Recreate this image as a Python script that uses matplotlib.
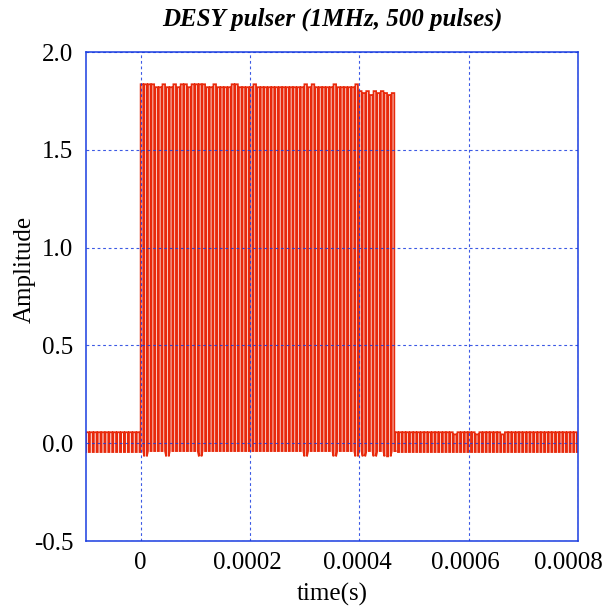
import numpy as np
import matplotlib
matplotlib.use("Agg")
import matplotlib.pyplot as plt
import matplotlib.transforms as mtransforms

plt.rcParams['font.family'] = ['Liberation Serif', 'DejaVu Serif']
plt.rcParams['axes.unicode_minus'] = False

# time boundaries of the scope trace (s)
t_start = -0.0001
t_pulse_on = 0.0
t_pulse_off = 0.000466
t_end = 0.0008

# baseline noise before the burst (top / bottom level per cycle)
pre_top = [0.056, 0.056, 0.056, 0.056, 0.056, 0.056, 0.056,
           0.056, 0.056, 0.056, 0.056, 0.056, 0.056, 0.056]
pre_bottom = [-0.045, -0.045, -0.045, -0.045, -0.045, -0.045, -0.045,
              -0.045, -0.045, -0.045, -0.045, -0.045, -0.045, -0.045]

# pulse burst, top / bottom level per sampled cycle
pulse_top = [1.835, 1.835, 1.835, 1.835, 1.82, 1.82, 1.835, 1.82, 1.82, 1.835,
             1.82, 1.835, 1.835, 1.82, 1.835, 1.835, 1.835, 1.835, 1.82, 1.82,
             1.835, 1.82, 1.82, 1.82, 1.82, 1.835, 1.835, 1.82, 1.82, 1.82,
             1.82, 1.835, 1.82, 1.82, 1.82, 1.82, 1.82, 1.82, 1.82, 1.82,
             1.82, 1.82, 1.82, 1.82, 1.82, 1.835, 1.82, 1.835, 1.82, 1.82,
             1.82, 1.82, 1.82, 1.835, 1.82, 1.82, 1.82, 1.82, 1.82, 1.835,
             1.80, 1.79, 1.80, 1.78, 1.80, 1.79, 1.80, 1.79, 1.78, 1.79]
pulse_bottom = [-0.04, -0.067, -0.04, -0.04, -0.04, -0.04, -0.04, -0.067, -0.04, -0.04,
                -0.04, -0.04, -0.04, -0.04, -0.04, -0.04, -0.067, -0.04, -0.04, -0.04,
                -0.04, -0.04, -0.04, -0.04, -0.04, -0.04, -0.04, -0.04, -0.04, -0.04,
                -0.04, -0.04, -0.04, -0.04, -0.04, -0.04, -0.04, -0.04, -0.04, -0.04,
                -0.04, -0.04, -0.04, -0.04, -0.04, -0.067, -0.04, -0.04, -0.04, -0.04,
                -0.04, -0.04, -0.04, -0.067, -0.04, -0.04, -0.04, -0.04, -0.04, -0.067,
                -0.04, -0.067, -0.04, -0.04, -0.067, -0.04, -0.04, -0.067, -0.067, -0.04]

# baseline noise after the burst
post_top = [0.056, 0.056, 0.056, 0.056, 0.056, 0.056, 0.056, 0.056, 0.056, 0.056,
            0.056, 0.056, 0.056, 0.056, 0.056, 0.056, 0.045, 0.056, 0.056, 0.056,
            0.056, 0.056, 0.045, 0.056, 0.056, 0.056, 0.056, 0.056, 0.056, 0.045,
            0.056, 0.056, 0.056, 0.056, 0.056, 0.056, 0.056, 0.056, 0.056, 0.056,
            0.056, 0.056, 0.056, 0.056, 0.056, 0.056, 0.056, 0.056, 0.056, 0.056]
post_bottom = [-0.045] * 50

x_ticks = [0, 0.0002, 0.0004, 0.0006, 0.0008]
x_ticklabels = ["0", "0.0002", "0.0004", "0.0006", "0.0008"]
y_ticks = [-0.5, 0.0, 0.5, 1.0, 1.5, 2.0]


def square_trace(t0, t1, tops, bottoms, duty=0.7):
    # step trace: rise to top, hold, fall to bottom, hold
    n = len(tops)
    starts = np.linspace(t0, t1, n + 1)
    ts, vs = [], []
    for i in range(n):
        a, b = starts[i], starts[i + 1]
        m = a + duty * (b - a)
        ts += [a, a, m, m]
        vs += [bottoms[i], tops[i], tops[i], bottoms[i]]
    ts.append(t1)
    vs.append(bottoms[-1])
    return ts, vs


t1, v1 = square_trace(t_start, t_pulse_on, pre_top, pre_bottom)
t2, v2 = square_trace(t_pulse_on, t_pulse_off, pulse_top, pulse_bottom)
t3, v3 = square_trace(t_pulse_off, t_end, post_top, post_bottom)
t = t1 + t2 + t3
v = v1 + v2 + v3

fig = plt.figure(figsize=(6.1, 6.12), dpi=100)
ax = fig.add_axes([0.141, 0.116, 0.8065, 0.799])

ax.plot(t, v, color='#e8290b', lw=1.3, zorder=2, solid_joinstyle='miter')

ax.set_xlim(t_start, t_end)
ax.set_ylim(-0.5, 2.0)
ax.set_xticks(x_ticks)
ax.set_xticklabels(x_ticklabels)
ax.set_yticks(y_ticks)
ax.set_yticklabels(["%.1f" % y for y in y_ticks])
ax.tick_params(length=0, labelsize=18, pad=9)
ax.tick_params(axis='x', pad=8)

# the printed labels sit a little left of their grid lines
shifts = [0, -3, -2, -3, -10]
for lab, dx in zip(ax.get_xticklabels(), shifts):
    lab.set_transform(lab.get_transform() +
                      mtransforms.ScaledTranslation(dx / 100, 0, fig.dpi_scale_trans))

ax.grid(True, color='#1a3de0', linestyle=(0, (2.5, 2.5)), linewidth=0.8, alpha=0.85)
ax.set_axisbelow(False)
for s in ax.spines.values():
    s.set_color('#1a3de0')
    s.set_linewidth(1.1)
    s.set_zorder(5)

ax.set_title("DESY pulser (1MHz, 500 pulses)", fontsize=18, fontweight='bold',
             fontstyle='italic', pad=19)
ax.set_xlabel("time(s)", fontsize=18, labelpad=6)
ax.set_ylabel("Amplitude", fontsize=18)
ax.yaxis.set_label_coords(-0.102, 0.555)

fig.savefig("out.png", dpi=100)
